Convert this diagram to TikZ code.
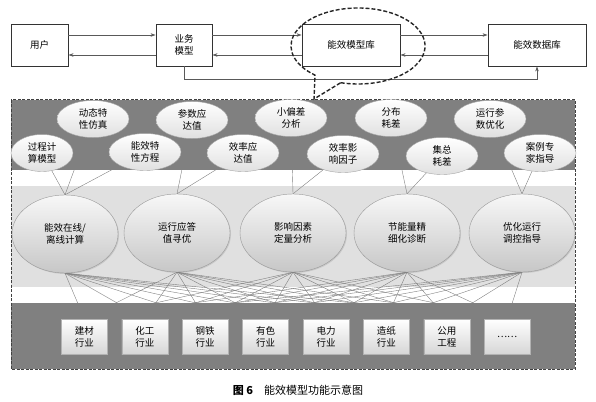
\documentclass[tikz,border=0pt]{standalone}
\usepackage{fontspec}
\setmainfont{Noto Sans CJK SC}
\usetikzlibrary{shapes.geometric,arrows.meta,shadows}

\pgfdeclarelayer{bands}
\pgfdeclarelayer{links}
\pgfsetlayers{bands,links,main}

\tikzset{
    topbox/.style={draw=black!80, line width=0.9pt, fill=white, minimum height=42pt,
        align=center, font=\fontsize{9.5}{12}\selectfont},
    flow/.style={draw=black!65, line width=0.6pt, -{Stealth[length=5pt,width=3.5pt]}},
    method/.style={ellipse, draw=black!35, top color=white, bottom color=black!12,
        minimum width=72pt, minimum height=37pt, inner sep=0pt, align=center,
        font=\fontsize{9.5}{12}\selectfont},
    func/.style={ellipse, draw=black!40, top color=black!3, bottom color=black!22,
        minimum width=106pt, minimum height=78pt, inner sep=0pt, align=center,
        font=\fontsize{9.5}{12}\selectfont,
        drop shadow={shadow xshift=1pt, shadow yshift=-1pt, opacity=0.25}},
    trade/.style={draw=black!30, top color=white, bottom color=black!16,
        minimum width=46pt, minimum height=35pt, inner sep=0pt, align=center,
        font=\fontsize{9.5}{12}\selectfont,
        drop shadow={shadow xshift=1pt, shadow yshift=-1pt, opacity=0.4}},
    link/.style={draw=black!50, line width=0.4pt},
}

\begin{document}
\begin{tikzpicture}[x=1pt, y=-1pt]
    \useasboundingbox (0,0) rectangle (596,401);

    % top row
    \node[topbox, minimum width=57pt] (yh) at (39.5,45) {用户};
    \node[topbox, minimum width=56pt] (yw) at (184,45) {业务\\模型};
    \node[topbox, minimum width=98pt] (mk) at (351,45) {能效模型库};
    \node[topbox, minimum width=98pt] (sj) at (537,45) {能效数据库};

    \draw[flow] ([yshift=10pt]yh.east) -- ([yshift=10pt]yw.west);
    \draw[flow] ([yshift=-10pt]yw.west) -- ([yshift=-10pt]yh.east);
    \draw[flow] ([yshift=10pt]yw.east) -- ([yshift=10pt]mk.west);
    \draw[flow] ([yshift=-10pt]mk.west) -- ([yshift=-10pt]yw.east);
    \draw[flow] ([yshift=10pt]mk.east) -- ([yshift=10pt]sj.west);
    \draw[flow] ([yshift=-10pt]sj.west) -- ([yshift=-10pt]mk.east);
    \draw[flow] (yw.south) -- ++(0,13) -| (sj.south);

    % callout
    \draw[black!85, line width=1.4pt, dash pattern=on 4pt off 2pt]
        (340.7,82.7) arc[start angle=105, end angle=-230, x radius=67, y radius=38]
        -- (314,99) -- cycle;

    % background bands
    \begin{pgfonlayer}{bands}
        \fill[black!50] (11,100) rectangle (575,170);
        \fill[black!12] (11,186) rectangle (575,287);
        \fill[black!50] (11,303) rectangle (575,369);
    \end{pgfonlayer}
    \draw[black!75, line width=1pt, dash pattern=on 3pt off 1.5pt] (11,100) rectangle (575,369);

    % methods
    \node[method, minimum width=62pt] (gc) at (42,153) {过程计\\算模型};
    \node[method] (dt) at (93,119) {动态特\\性仿真};
    \node[method] (nx) at (145,152) {能效特\\性方程};
    \node[method] (cs) at (192,120) {参数应\\达值};
    \node[method] (xl) at (243,153) {效率应\\达值};
    \node[method] (xp) at (291,118) {小偏差\\分析};
    \node[method] (yx) at (343,154) {效率影\\响因子};
    \node[method] (fb) at (391,118) {分布\\耗差};
    \node[method] (jz) at (442,156) {集总\\耗差};
    \node[method] (yc) at (490,119) {运行参\\数优化};
    \node[method] (al) at (540,153) {案例专\\家指导};

    % functions
    \node[func] (f1) at (65,234) {能效在线/\\离线计算};
    \node[func] (f2) at (177,233) {运行应答\\值寻优};
    \node[func] (f3) at (293,233) {影响因素\\定量分析};
    \node[func] (f4) at (407,233) {节能量精\\细化诊断};
    \node[func] (f5) at (522,233) {优化运行\\调控指导};

    % trades
    \foreach \n/\t [count=\i] in {jc/{建材\\行业}, hg/{化工\\行业}, gt/{钢铁\\行业}, ys/{有色\\行业},
                                  dl/{电力\\行业}, zz/{造纸\\行业}, gy/{公用\\工程}, qt/{……}} {
        \node[trade] (\n) at ({24+60.4*\i},336.5) {\t};
    }

    \begin{pgfonlayer}{links}
        \foreach \a/\b in {gc/f1, dt/f1, nx/f1, cs/f2, xl/f2, xp/f3, yx/f3, fb/f4, jz/f4, yc/f5, al/f5}
            \draw[link] (\a) -- (\b.north);
        \foreach \f in {f1,f2,f3,f4,f5}
            \foreach \n in {jc,hg,gt,ys,dl,zz,gy,qt}
                \draw[link] (\f.south) -- (\n.north);
    \end{pgfonlayer}

    \node[font=\fontsize{11}{13}\selectfont] (cap) at (298,390) {\textbf{图 6}\quad 能效模型功能示意图};
\end{tikzpicture}
\end{document}
